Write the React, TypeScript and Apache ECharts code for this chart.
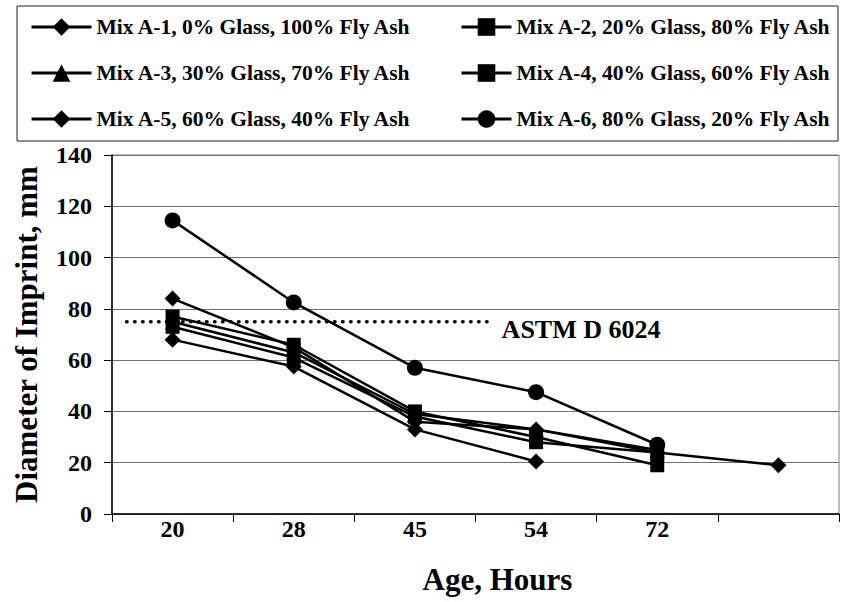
import React, { useEffect, useRef } from "react";
import * as echarts from "echarts";

const categories = ["20", "28", "45", "54", "72", ""];
const mixA1 = [84, 65, 36, 33, 24, 19];
const mixA2 = [77, 66, 40, 30, 19];
const mixA3 = [75, 63, 39, 33, 25];
const mixA4 = [73, 61, 38, 28, 24];
const mixA5 = [68, 57.5, 33, 20.5];
const mixA6 = [114.5, 82.5, 57, 47.5, 27];
const astmValue = 75;
const astmSpan = [0.12, 3.1];

const names = [
  "Mix A-1, 0% Glass, 100% Fly Ash",
  "Mix A-2, 20% Glass, 80% Fly Ash",
  "Mix A-3, 30% Glass, 70% Fly Ash",
  "Mix A-4, 40% Glass, 60% Fly Ash",
  "Mix A-5, 60% Glass, 40% Fly Ash",
  "Mix A-6, 80% Glass, 20% Fly Ash",
];

const FONT = "'Liberation Serif', 'Times New Roman', serif";

export default function App() {
  const ref = useRef<HTMLDivElement>(null);
  useEffect(() => {
    if (!ref.current) return;
    const chart = echarts.init(ref.current, null, { renderer: "svg" });
    const mk = (name: string, data: number[], symbol: string, size: number) => ({
      name,
      type: "line",
      data,
      symbol,
      symbolSize: size,
      showAllSymbol: true,
      lineStyle: { color: "#000", width: 2.5 },
      itemStyle: { color: "#000" },
      xAxisIndex: 0,
      yAxisIndex: 0,
    });
    const legendCommon = {
      orient: "vertical",
      top: 16,
      padding: 0,
      itemGap: 24,
      itemHeight: 22,
      lineStyle: { width: 3, color: "#000" },
      textStyle: {
        fontFamily: FONT,
        fontWeight: "bold",
        fontSize: 21.5,
        color: "#000",
        lineHeight: 20,
      },
    };
    chart.setOption({
      animation: false,
      backgroundColor: "#fff",
      textStyle: { fontFamily: FONT },
      graphic: [
        {
          type: "rect",
          shape: { x: 17, y: 6, width: 821, height: 135 },
          style: { fill: "none", stroke: "#222", lineWidth: 1 },
          z: -1,
        },
      ],
      legend: [
        {
          ...legendCommon,
          left: 30,
          itemWidth: 60,
          data: [names[0], names[2], names[4]],
        },
        {
          ...legendCommon,
          left: 460,
          itemWidth: 50,
          data: [names[1], names[3], names[5]],
        },
      ],
      grid: {
        left: 112,
        right: 2,
        top: 155,
        bottom: 88,
        show: true,
        borderColor: "#808080",
        borderWidth: 1,
      },
      xAxis: [
        {
          type: "category",
          data: categories,
          boundaryGap: true,
          name: "Age, Hours",
          nameLocation: "middle",
          nameGap: 50,
          nameTextStyle: {
            fontFamily: FONT,
            fontWeight: "bold",
            fontSize: 31,
            color: "#000",
            padding: [0, 0, 0, 44],
          },
          axisLine: { lineStyle: { color: "#000", width: 1.5 } },
          axisTick: { show: true, inside: false, length: 8, interval: 0, lineStyle: { color: "#000" } },
          axisLabel: {
            interval: 0,
            margin: 3,
            fontFamily: FONT,
            fontWeight: "bold",
            fontSize: 24,
            color: "#000",
          },
          splitLine: { show: false },
        },
        {
          type: "value",
          min: 0,
          max: 6,
          show: false,
        },
      ],
      yAxis: {
        type: "value",
        min: 0,
        max: 140,
        interval: 20,
        name: "Diameter of Imprint, mm",
        nameLocation: "middle",
        nameGap: 70,
        nameRotate: 90,
        nameTextStyle: { fontFamily: FONT, fontWeight: "bold", fontSize: 31, color: "#000" },
        axisLine: { show: true, lineStyle: { color: "#000", width: 1.5 } },
        axisTick: { show: true, inside: false, length: 8, lineStyle: { color: "#000" } },
        axisLabel: {
          margin: 20,
          fontFamily: FONT,
          fontWeight: "bold",
          fontSize: 24,
          color: "#000",
        },
        splitLine: { show: true, lineStyle: { color: "#707070", width: 1.2 } },
      },
      series: [
        mk(names[0], mixA1, "diamond", 16),
        mk(names[1], mixA2, "rect", 14),
        mk(names[2], mixA3, "triangle", 15),
        mk(names[3], mixA4, "rect", 14),
        mk(names[4], mixA5, "diamond", 16),
        mk(names[5], mixA6, "circle", 16),
        {
          name: "ASTM D 6024",
          type: "line",
          xAxisIndex: 1,
          yAxisIndex: 0,
          data: astmSpan.map((x) => [x, astmValue]),
          symbol: "none",
          lineStyle: { color: "#000", width: 3.5, type: [0.5, 7.5], cap: "round" },
          endLabel: {
            show: true,
            formatter: "ASTM D 6024",
            distance: 14,
            offset: [0, 8],
            fontFamily: FONT,
            fontWeight: "bold",
            fontSize: 26,
            color: "#000",
          },
          silent: true,
          z: 1,
        },
      ],
    });
    return () => chart.dispose();
  }, []);
  return <div ref={ref} style={{ width: 841, height: 602, position: "absolute", left: 0, top: 0 }} />;
}
